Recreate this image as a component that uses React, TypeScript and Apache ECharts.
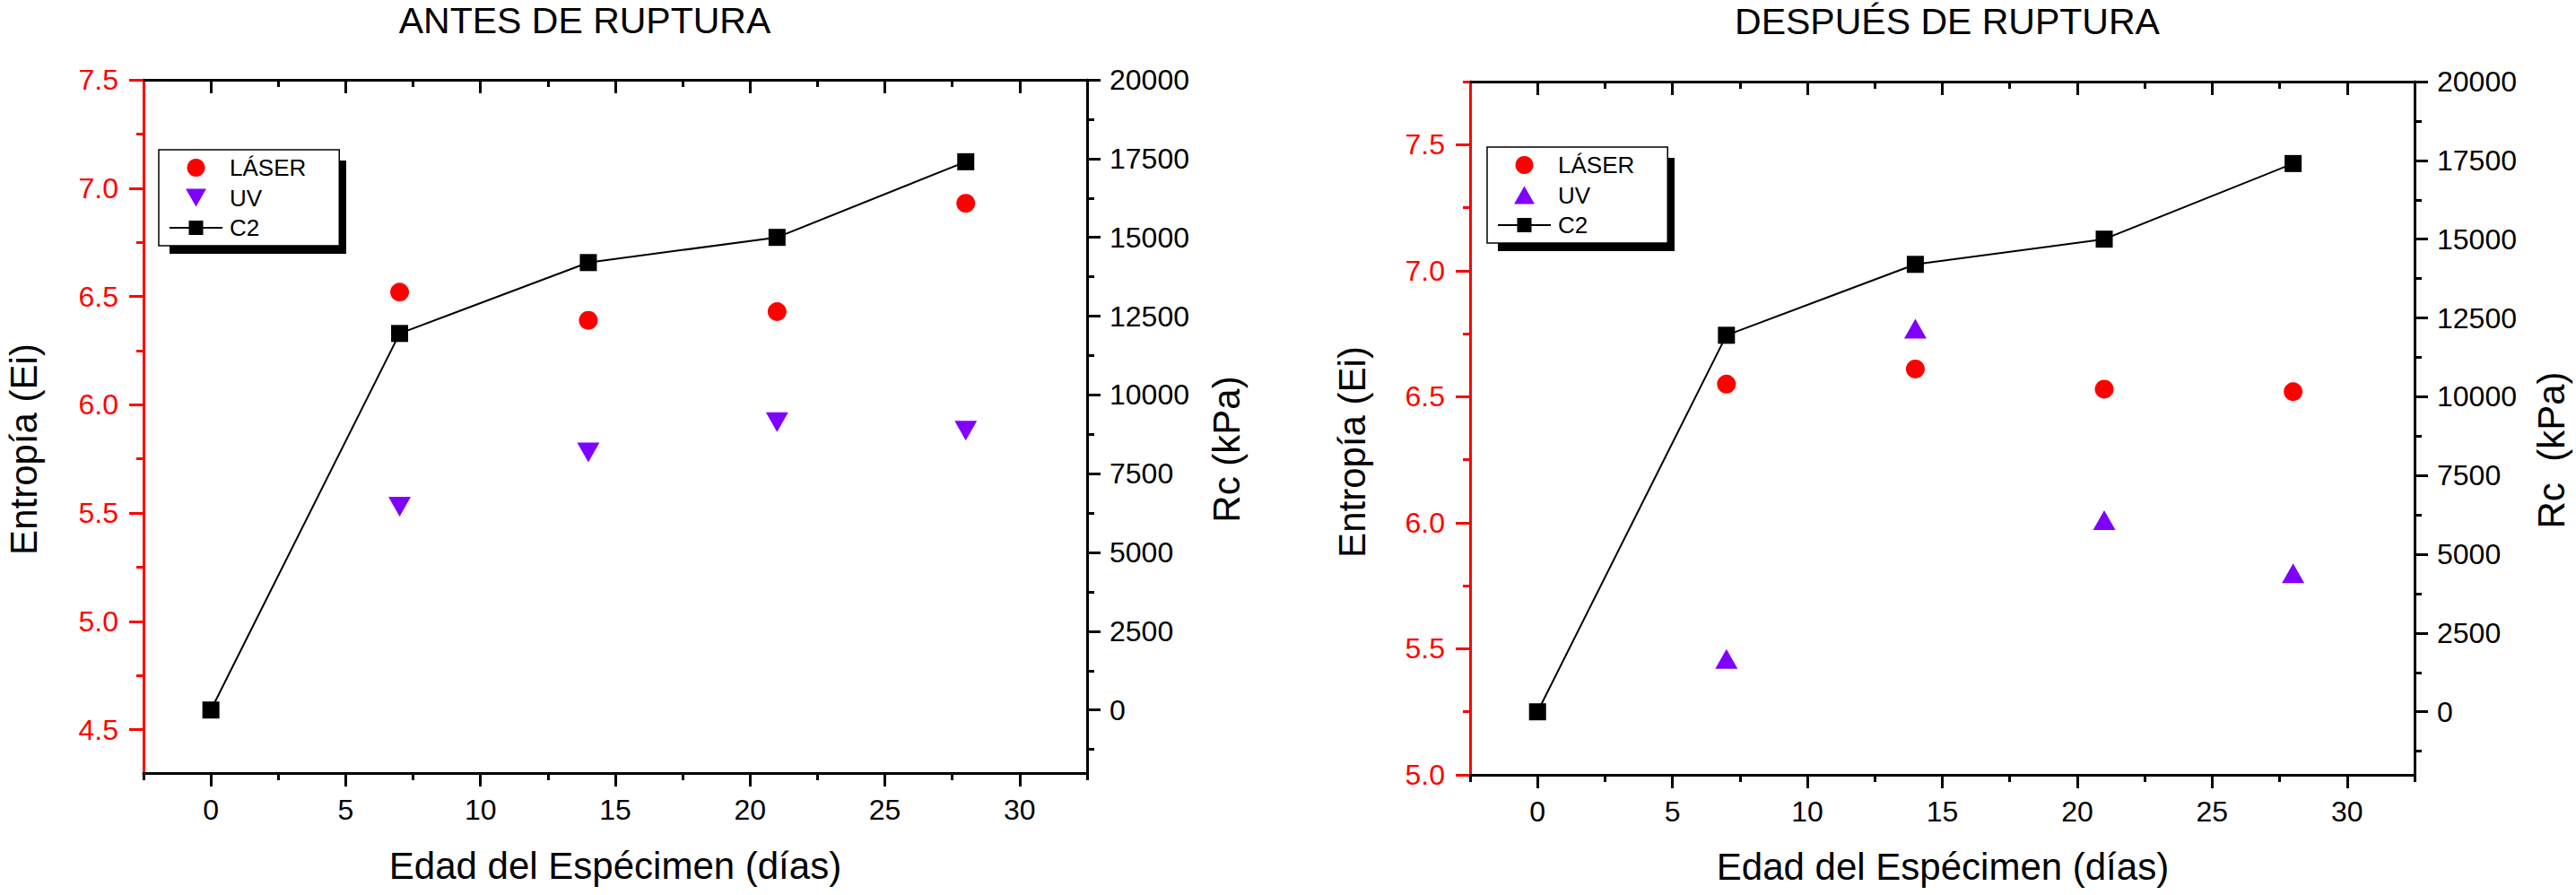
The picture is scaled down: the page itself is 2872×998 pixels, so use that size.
import React, { useEffect, useRef } from "react";
import * as echarts from "echarts";

// ---------- data ----------
const DAYS = [7, 14, 21, 28];
const DAYS_C2 = [0, 7, 14, 21, 28];
const C2_RC = [0, 11950, 14200, 15000, 17400];

const ANTES_LASER = [6.52, 6.39, 6.43, 6.93];
const ANTES_UV = [5.53, 5.78, 5.92, 5.88];

const DESPUES_LASER = [6.55, 6.61, 6.53, 6.52];
const DESPUES_UV = [5.46, 6.77, 6.01, 5.8];

const X_MAJOR = [0, 5, 10, 15, 20, 25, 30];
const X_MINOR = [-2.5, 2.5, 7.5, 12.5, 17.5, 22.5, 27.5, 32.5];
const RC_MAJOR = [0, 2500, 5000, 7500, 10000, 12500, 15000, 17500, 20000];
const RC_MINOR = [-1250, 1250, 3750, 6250, 8750, 11250, 13750, 16250, 18750];
const ANTES_EI_MAJOR = [4.5, 5.0, 5.5, 6.0, 6.5, 7.0, 7.5];
const ANTES_EI_MINOR = [4.75, 5.25, 5.75, 6.25, 6.75, 7.25];
const DESPUES_EI_MAJOR = [5.0, 5.5, 6.0, 6.5, 7.0, 7.5];
const DESPUES_EI_MINOR = [5.25, 5.75, 6.25, 6.75, 7.25, 7.75];

const TITLES = ["ANTES DE RUPTURA", "DESPUÉS DE RUPTURA"];
const Y_LEFT_TITLE = "Entropía (Ei)";
const Y_RIGHT_TITLES = ["Rc (kPa)", "Rc  (kPa)"];
const X_TITLE = "Edad del Espécimen (días)";

const FONT = '"Liberation Sans", Arial, sans-serif';
const RED = "#ff0000";
const PURPLE = "#8000ff";

const TRI_DOWN = "path://M0,0 L24,0 L12,21 Z";
const TRI_UP = "path://M12,0 L24,21 L0,21 Z";

// ---------- layout ----------
const PANELS = [
  {
    grid: { left: 160, top: 89, width: 1052, height: 773 },
    eiMin: 4.3,
    eiMax: 7.5,
    eiMajor: ANTES_EI_MAJOR,
    eiMinor: ANTES_EI_MINOR,
    laser: ANTES_LASER,
    uv: ANTES_UV,
    uvRotate: 180,
    uvIcon: TRI_DOWN,
    suffix: "",
    title: { x: 652, y: 23 },
    xTitle: { x: 686, y: 965 },
    yLeftTitle: { x: 26, y: 501 },
    yRightTitle: { x: 1367, y: 501 },
    legend: { left: 177, top: 167 },
  },
  {
    grid: { left: 1639, top: 91, width: 1053, height: 773 },
    eiMin: 5.0,
    eiMax: 7.75,
    eiMajor: DESPUES_EI_MAJOR,
    eiMinor: DESPUES_EI_MINOR,
    laser: DESPUES_LASER,
    uv: DESPUES_UV,
    uvRotate: 0,
    uvIcon: TRI_UP,
    suffix: " ",
    title: { x: 2171, y: 24 },
    xTitle: { x: 2166, y: 966 },
    yLeftTitle: { x: 1507, y: 504 },
    yRightTitle: { x: 2844, y: 502 },
    legend: { left: 1658, top: 164 },
  },
];

const LEGEND_W = 197;
const LEGEND_H = 104;

function buildOption() {
  const grid: any[] = [];
  const xAxis: any[] = [];
  const yAxis: any[] = [];
  const series: any[] = [];
  const legend: any[] = [];
  const graphic: any[] = [];

  const tickFont = { fontSize: 32, fontFamily: FONT };

  PANELS.forEach((p, i) => {
    grid.push({ ...p.grid, containLabel: false });
    const xb = xAxis.length;
    const yb = yAxis.length;

    const xCommon = {
      gridIndex: i,
      type: "value",
      min: -2.5,
      max: 32.5,
      splitLine: { show: false },
    };
    // bottom major
    xAxis.push({
      ...xCommon,
      position: "bottom",
      axisLine: { show: true, onZero: false, lineStyle: { color: "#000", width: 3 } },
      axisTick: { show: true, customValues: X_MAJOR, length: 15, lineStyle: { color: "#000", width: 3 } },
      axisLabel: { show: true, customValues: X_MAJOR, margin: 25, color: "#000", ...tickFont },
    });
    // bottom minor
    xAxis.push({
      ...xCommon,
      position: "bottom",
      axisLine: { show: false, onZero: false },
      axisTick: { show: true, customValues: X_MINOR, length: 8, lineStyle: { color: "#000", width: 3 } },
      axisLabel: { show: false },
    });
    // top major (inside)
    xAxis.push({
      ...xCommon,
      position: "top",
      axisLine: { show: true, onZero: false, lineStyle: { color: "#000", width: 3 } },
      axisTick: { show: true, inside: true, customValues: X_MAJOR, length: 15, lineStyle: { color: "#000", width: 3 } },
      axisLabel: { show: false },
    });
    // top minor (inside)
    xAxis.push({
      ...xCommon,
      position: "top",
      axisLine: { show: false, onZero: false },
      axisTick: {
        show: true,
        inside: true,
        customValues: X_MINOR.filter((v) => v > -2.5 && v < 32.5),
        length: 8,
        lineStyle: { color: "#000", width: 3 },
      },
      axisLabel: { show: false },
    });

    // left major
    yAxis.push({
      gridIndex: i,
      type: "value",
      position: "left",
      min: p.eiMin,
      max: p.eiMax,
      splitLine: { show: false },
      axisLine: { show: true, onZero: false, lineStyle: { color: RED, width: 3 } },
      axisTick: { show: true, customValues: p.eiMajor, length: 16, lineStyle: { color: RED, width: 3 } },
      axisLabel: {
        show: true,
        customValues: p.eiMajor,
        margin: 28,
        color: RED,
        ...tickFont,
        formatter: (v: number) => v.toFixed(1),
      },
    });
    // left minor
    yAxis.push({
      gridIndex: i,
      type: "value",
      position: "left",
      min: p.eiMin,
      max: p.eiMax,
      splitLine: { show: false },
      axisLine: { show: false, onZero: false },
      axisTick: { show: true, customValues: p.eiMinor, length: 8, lineStyle: { color: RED, width: 3 } },
      axisLabel: { show: false },
    });
    // right major
    yAxis.push({
      gridIndex: i,
      type: "value",
      position: "right",
      min: -2000,
      max: 20000,
      splitLine: { show: false },
      axisLine: { show: true, onZero: false, lineStyle: { color: "#000", width: 3 } },
      axisTick: { show: true, customValues: RC_MAJOR, length: 15, lineStyle: { color: "#000", width: 3 } },
      axisLabel: {
        show: true,
        customValues: RC_MAJOR,
        margin: 25,
        color: "#000",
        ...tickFont,
        formatter: (v: number) => String(v),
      },
    });
    // right minor
    yAxis.push({
      gridIndex: i,
      type: "value",
      position: "right",
      min: -2000,
      max: 20000,
      splitLine: { show: false },
      axisLine: { show: false, onZero: false },
      axisTick: { show: true, customValues: RC_MINOR, length: 8, lineStyle: { color: "#000", width: 3 } },
      axisLabel: { show: false },
    });

    const nL = "LÁSER" + p.suffix;
    const nU = "UV" + p.suffix;
    const nC = "C2" + p.suffix;

    series.push({
      name: nC,
      type: "line",
      xAxisIndex: xb,
      yAxisIndex: yb + 2,
      data: DAYS_C2.map((d, k) => [d, C2_RC[k]]),
      symbol: "rect",
      symbolSize: 19,
      itemStyle: { color: "#000", opacity: 1 },
      lineStyle: { color: "#000", width: 2 },
      z: 3,
    });
    series.push({
      name: nL,
      type: "scatter",
      xAxisIndex: xb,
      yAxisIndex: yb,
      data: DAYS.map((d, k) => [d, p.laser[k]]),
      symbol: "circle",
      symbolSize: 21,
      itemStyle: { color: RED, opacity: 1 },
      z: 4,
    });
    series.push({
      name: nU,
      type: "scatter",
      xAxisIndex: xb,
      yAxisIndex: yb,
      data: DAYS.map((d, k) => [d, p.uv[k]]),
      symbol: "triangle",
      symbolSize: [25, 22],
      symbolRotate: p.uvRotate,
      itemStyle: { color: PURPLE, opacity: 1 },
      z: 4,
    });

    legend.push({
      data: [
        { name: nL, icon: "circle" },
        { name: nU, icon: p.uvIcon },
        { name: nC },
      ],
      orient: "vertical",
      left: p.legend.left,
      top: p.legend.top,
      itemWidth: 59,
      itemHeight: 20,
      itemGap: 7.5,
      padding: [7, 37, 7, 11],
      symbolRotate: 0,
      symbolKeepAspect: true,
      backgroundColor: "#fff",
      borderColor: "#000",
      borderWidth: 1.5,
      borderRadius: 0,
      selectedMode: false,
      z: 10,
      formatter: (name: string) => name.trim(),
      textStyle: { fontSize: 26, lineHeight: 25, fontFamily: FONT, color: "#000", padding: [0, 0, 0, 3] },
    });

    // legend shadow
    graphic.push({
      type: "rect",
      z: 1,
      shape: { x: p.legend.left + 12, y: p.legend.top + 12, width: LEGEND_W, height: LEGEND_H },
      style: { fill: "#000" },
    });

    const textStyle = (text: string, size: number) => ({
      text,
      fontSize: size,
      fontFamily: FONT,
      fill: "#000",
      textAlign: "center",
      textVerticalAlign: "middle",
    });

    graphic.push({ type: "text", x: p.title.x, y: p.title.y, z: 5, style: textStyle(TITLES[i], 41) });
    graphic.push({ type: "text", x: p.xTitle.x, y: p.xTitle.y, z: 5, style: textStyle(X_TITLE, 42) });
    graphic.push({
      type: "text",
      x: p.yLeftTitle.x,
      y: p.yLeftTitle.y,
      rotation: Math.PI / 2,
      z: 5,
      style: textStyle(Y_LEFT_TITLE, 42),
    });
    graphic.push({
      type: "text",
      x: p.yRightTitle.x,
      y: p.yRightTitle.y,
      rotation: Math.PI / 2,
      z: 5,
      style: textStyle(Y_RIGHT_TITLES[i], 42),
    });
  });

  return {
    animation: false,
    backgroundColor: "#fff",
    textStyle: { fontFamily: FONT },
    grid,
    xAxis,
    yAxis,
    series,
    legend,
    graphic,
  };
}

export default function App() {
  const ref = useRef<HTMLDivElement>(null);
  useEffect(() => {
    document.body.style.margin = "0";
    if (!ref.current) return;
    const chart = echarts.init(ref.current, undefined, { renderer: "svg" });
    chart.setOption(buildOption() as any);
    return () => chart.dispose();
  }, []);
  return <div ref={ref} style={{ width: 2872, height: 998 }} />;
}
